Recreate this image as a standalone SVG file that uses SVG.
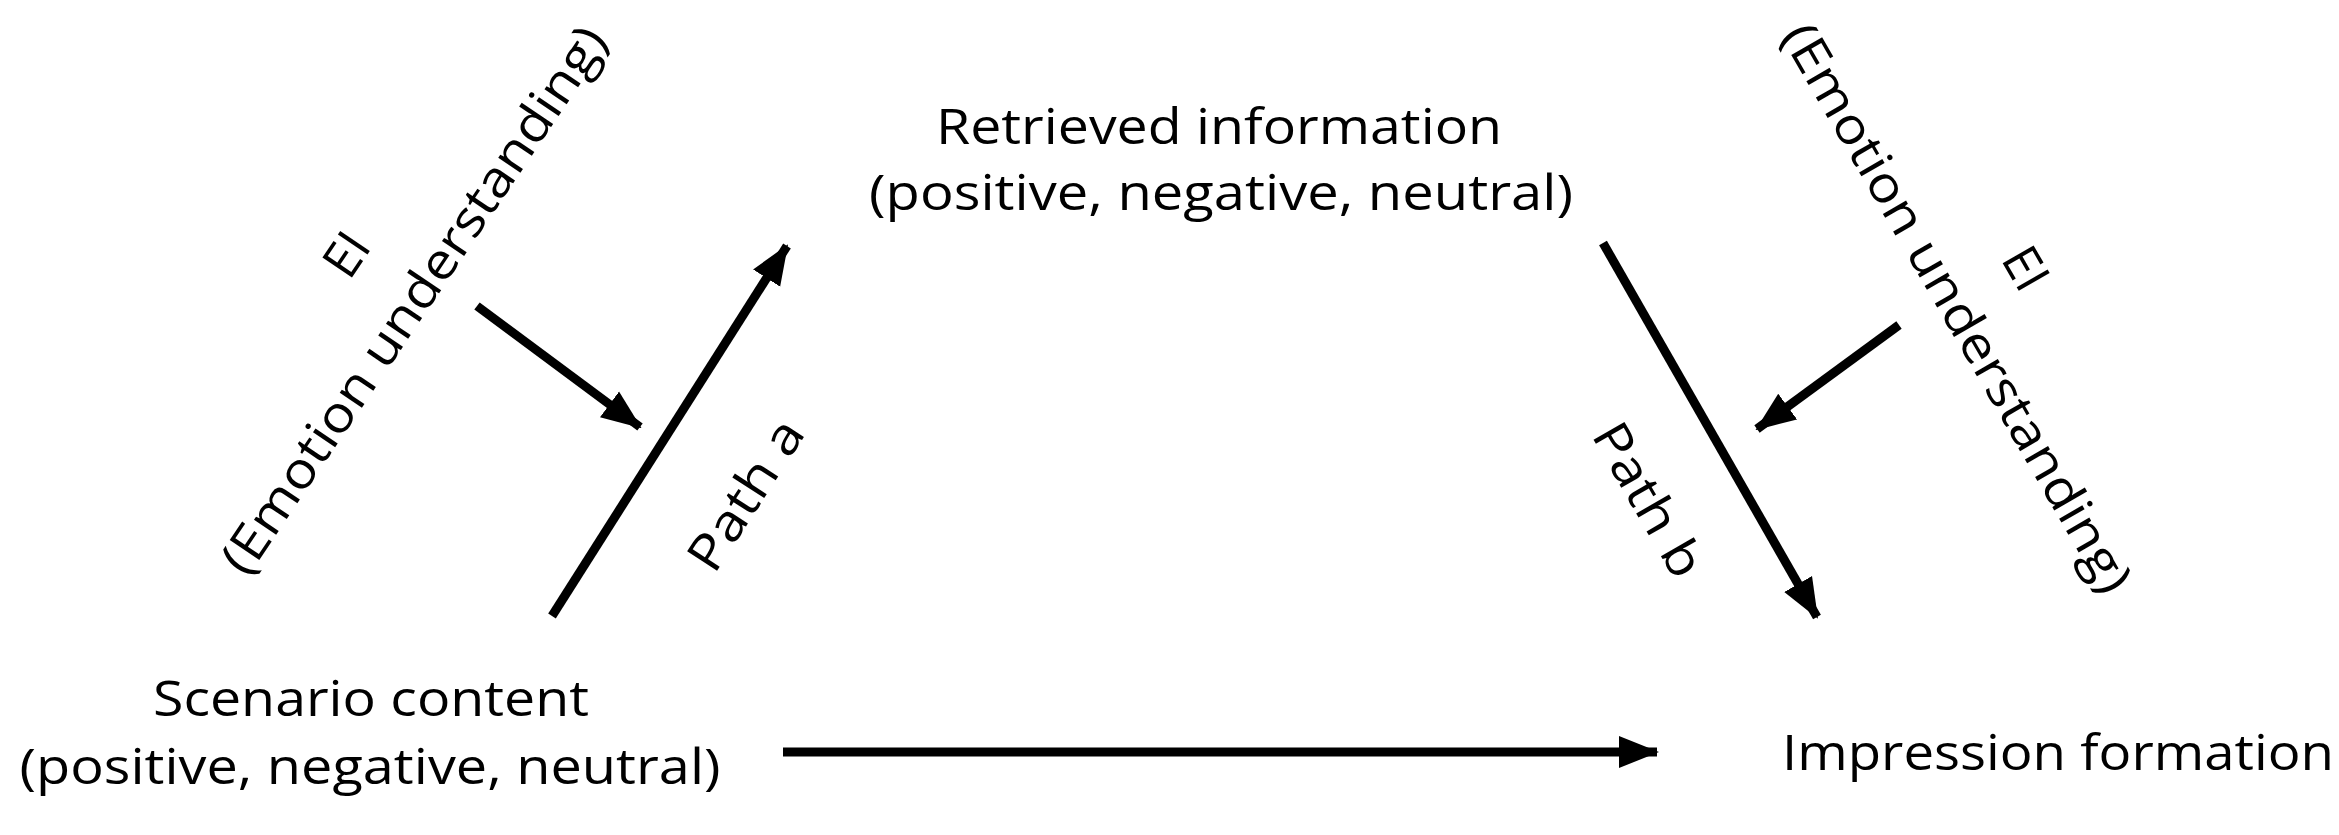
<svg xmlns="http://www.w3.org/2000/svg" width="2339" height="835" viewBox="0 0 2339 835">
<style>
text{font-family:"Open Sans","Liberation Sans",sans-serif;font-size:50px;fill:#000;text-anchor:middle}
.c{stroke:#000;stroke-width:9;fill:none}
</style>
<defs>
<marker id="ah" markerUnits="userSpaceOnUse" markerWidth="40" markerHeight="34" refX="38" refY="16" orient="auto" viewBox="0 0 40 32">
<path d="M0,0 L40,16 L0,32 z" fill="#000"/>
</marker>
</defs>
<rect width="2339" height="835" fill="#fff"/>
<g id="connectors">
<line class="c" x1="552" y1="616" x2="787" y2="246" marker-end="url(#ah)"/>
<line class="c" x1="477" y1="306" x2="640" y2="427" marker-end="url(#ah)"/>
<line class="c" x1="1603" y1="243" x2="1817" y2="617" marker-end="url(#ah)"/>
<line class="c" x1="1899" y1="325" x2="1757" y2="429" marker-end="url(#ah)"/>
<line class="c" x1="783" y1="752" x2="1657" y2="752" marker-end="url(#ah)"/>
<g transform="translate(746,495) rotate(-57)"><text y="17" textLength="170" lengthAdjust="spacingAndGlyphs">Path a</text></g>
<g transform="translate(1648,500) rotate(60)"><text y="17" textLength="170" lengthAdjust="spacingAndGlyphs">Path b</text></g>
</g>
<g id="retrieved">
<text x="1219" y="144" textLength="566" lengthAdjust="spacingAndGlyphs">Retrieved information</text>
<text x="1221" y="210" textLength="704" lengthAdjust="spacingAndGlyphs">(positive, negative, neutral)</text>
</g>
<g id="scenario">
<text x="371" y="716" textLength="436" lengthAdjust="spacingAndGlyphs">Scenario content</text>
<text x="370" y="784" textLength="701" lengthAdjust="spacingAndGlyphs">(positive, negative, neutral)</text>
</g>
<g id="impression">
<text x="2058" y="770" textLength="552" lengthAdjust="spacingAndGlyphs">Impression formation</text>
</g>
<g id="ei-left" transform="translate(414,300) rotate(-56)">
<text y="-64">EI</text>
<text y="17" textLength="648" lengthAdjust="spacingAndGlyphs">(Emotion understanding)</text>
</g>
<g id="ei-right" transform="translate(1957,308) rotate(60)">
<text y="-62">EI</text>
<text y="17" textLength="648" lengthAdjust="spacingAndGlyphs">(Emotion understanding)</text>
</g>
</svg>
